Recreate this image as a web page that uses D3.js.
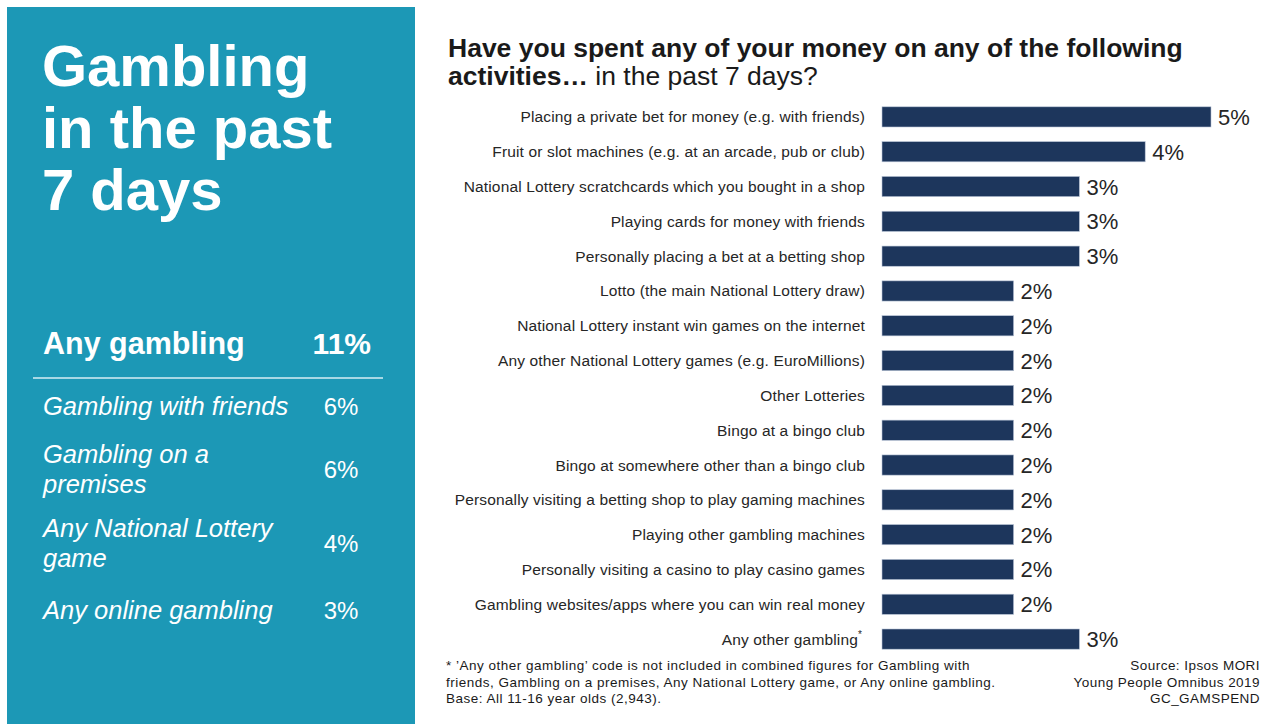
<!DOCTYPE html>
<html><head><meta charset="utf-8">
<script src="https://cdn.jsdelivr.net/npm/d3@7"></script>
<style>
html,body{margin:0;padding:0;background:#fff;}
svg{display:block;font-family:"Liberation Sans",Arial,sans-serif;}
</style></head>
<body>
<script>
const categories = [
  "Placing a private bet for money (e.g. with friends)",
  "Fruit or slot machines (e.g. at an arcade, pub or club)",
  "National Lottery scratchcards which you bought in a shop",
  "Playing cards for money with friends",
  "Personally placing a bet at a betting shop",
  "Lotto (the main National Lottery draw)",
  "National Lottery instant win games on the internet",
  "Any other National Lottery games (e.g. EuroMillions)",
  "Other Lotteries",
  "Bingo at a bingo club",
  "Bingo at somewhere other than a bingo club",
  "Personally visiting a betting shop to play gaming machines",
  "Playing other gambling machines",
  "Personally visiting a casino to play casino games",
  "Gambling websites/apps where you can win real money",
  "Any other gambling"
];
const values = [5,4,3,3,3,2,2,2,2,2,2,2,2,2,2,3];
const summaryLabels = [["Gambling with friends"],["Gambling on a","premises"],["Any National Lottery","game"],["Any online gambling"]];
const summaryValues = [6,6,4,3];
const anyGambling = 11;

const W=1266,H=724;
const svg=d3.select("body").append("svg").attr("width",W).attr("height",H);

// left panel
svg.append("rect").attr("x",7).attr("y",7).attr("width",408).attr("height",H-7).attr("fill","#1c98b6");
const titleLines=["Gambling","in the past","7 days"];
svg.append("g").selectAll("text").data(titleLines).join("text")
  .attr("x",42).attr("y",(d,i)=>86+i*62)
  .attr("fill","#fff").attr("font-weight","bold").attr("font-size",58).text(d=>d);

svg.append("text").attr("x",43).attr("y",354).attr("fill","#fff").attr("font-weight","bold").attr("font-size",30.5).text("Any gambling");
svg.append("text").attr("x",371).attr("y",354).attr("text-anchor","end").attr("fill","#fff").attr("font-weight","bold").attr("font-size",30).text(anyGambling+"%");
svg.append("line").attr("x1",33).attr("x2",383).attr("y1",378).attr("y2",378).attr("stroke","#d6eef4").attr("stroke-width",1.5);

const sumY=[[415],[463,493],[537,567],[619]];
const sumVY=[415,478,552,619];
summaryLabels.forEach((lines,i)=>{
  const tx=svg.append("text").attr("x",43).attr("y",sumY[i][0]).attr("fill","#fff").attr("font-style","italic").attr("font-size",25.5);
  lines.forEach((l,j)=>{
    tx.append("tspan").attr("x",43).attr("dy",j===0?0:(sumY[i][j]-sumY[i][j-1])).text(l);
  });
  svg.append("text").attr("x",341).attr("y",sumVY[i]).attr("text-anchor","middle").attr("fill","#fff").attr("font-size",24).text(summaryValues[i]+"%");
});

// title (one text element, two lines)
const t=svg.append("text").attr("x",448).attr("y",57).attr("fill","#1a1a1a").attr("font-size",26.5);
t.append("tspan").attr("font-weight","bold").text("Have you spent any of your money on any of the following");
t.append("tspan").attr("x",448).attr("dy",28).attr("font-weight","bold").text("activities…");
t.append("tspan").text(" in the past 7 days?");

// bars
const x=d3.scaleLinear().domain([0,5]).range([882,1211]);
const y=d3.scaleBand().domain(categories).range([99.5,656.5]).paddingInner(0.42).paddingOuter(0.21);
const g=svg.append("g");
g.selectAll("rect").data(categories).join("rect")
  .attr("x",x(0)).attr("y",d=>y(d)).attr("height",y.bandwidth())
  .attr("width",(d,i)=>x(values[i])-x(0))
  .attr("fill","#1d365c").attr("stroke","#b8c4d6").attr("stroke-width",0.6);
g.selectAll("text.v").data(categories).join("text").attr("class","v")
  .attr("x",(d,i)=>x(values[i])+7).attr("y",d=>y(d)+y.bandwidth()/2+8)
  .attr("font-size",22).attr("fill","#262626").text((d,i)=>values[i]+"%");
const lab=g.selectAll("text.l").data(categories).join("text").attr("class","l")
  .attr("x",865).attr("y",d=>y(d)+y.bandwidth()/2+5.5)
  .attr("text-anchor","end").attr("font-size",15.5).attr("letter-spacing",0.15).attr("fill","#262626");
lab.text(d=>d);
lab.filter(d=>d==="Any other gambling").attr("x",862).append("tspan").attr("font-size",10).attr("dy",-7).text("*");

// footnotes
const foot=["* \u2019Any other gambling\u2019 code is not included in combined figures for Gambling with","friends, Gambling on a premises, Any National Lottery game, or Any online gambling.","Base: All 11-16 year olds (2,943)."];
svg.append("g").selectAll("text").data(foot).join("text").attr("x",446).attr("y",(d,i)=>670+i*16.5)
  .attr("font-size",13.5).attr("letter-spacing",0.5).attr("fill","#1a1a1a").text(d=>d);
const src=["Source: Ipsos MORI","Young People Omnibus 2019","GC_GAMSPEND"];
svg.append("g").selectAll("text").data(src).join("text").attr("x",1260).attr("y",(d,i)=>670+i*16.5)
  .attr("text-anchor","end").attr("font-size",13.5).attr("letter-spacing",0.45).attr("fill","#1a1a1a").text(d=>d);
</script>
</body></html>
